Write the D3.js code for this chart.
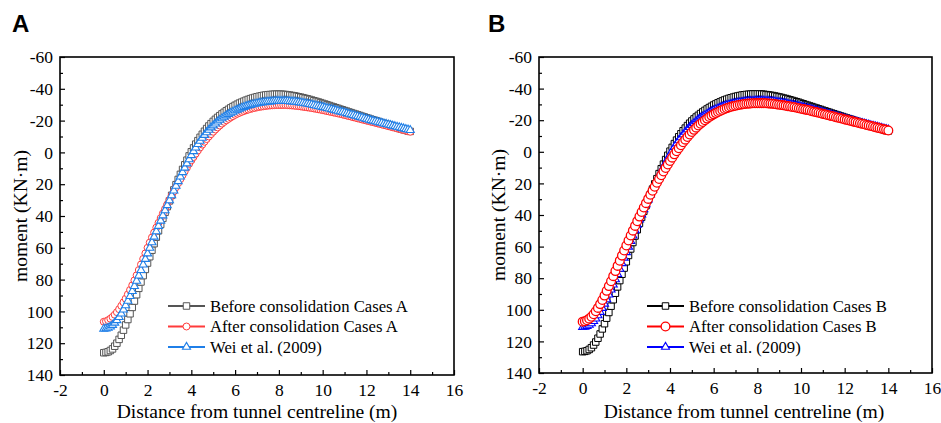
<html>
  <head>
    <title>Moment</title>
    <meta charset="utf-8" />
    <script src="https://cdnjs.cloudflare.com/ajax/libs/d3/7.6.1/d3.min.js"></script>
    <style>
      body { margin: 0; background: #fff; }
      .axis path { display: none; }
      .axis line { stroke: #000; stroke-width: 1.2; }
      .frame { fill: none; stroke: #000; stroke-width: 1.6; }
    </style>
  </head>
  <body>
    <svg width="941" height="423"></svg>
  </body>

  <script>
    const SERIF = '"Liberation Serif", "DejaVu Serif", "Times New Roman", serif';

    // distance from tunnel centreline (m)
    let distance = [
      0, 0.1, 0.2, 0.3, 0.4, 0.5, 0.6, 0.7, 0.8, 0.9, 1, 1.1, 1.2, 1.3, 1.4, 1.5, 1.6, 1.7, 1.8, 1.9,
      2, 2.1, 2.2, 2.3, 2.4, 2.5, 2.6, 2.7, 2.8, 2.9, 3, 3.1, 3.2, 3.3, 3.4, 3.5, 3.6, 3.7, 3.8, 3.9,
      4, 4.1, 4.2, 4.3, 4.4, 4.5, 4.6, 4.7, 4.8, 4.9, 5, 5.1, 5.2, 5.3, 5.4, 5.5, 5.6, 5.7, 5.8, 5.9,
      6, 6.1, 6.2, 6.3, 6.4, 6.5, 6.6, 6.7, 6.8, 6.9, 7, 7.1, 7.2, 7.3, 7.4, 7.5, 7.6, 7.7, 7.8, 7.9,
      8, 8.1, 8.2, 8.3, 8.4, 8.5, 8.6, 8.7, 8.8, 8.9, 9, 9.1, 9.2, 9.3, 9.4, 9.5, 9.6, 9.7, 9.8, 9.9,
      10, 10.1, 10.2, 10.3, 10.4, 10.5, 10.6, 10.7, 10.8, 10.9, 11, 11.1, 11.2, 11.3, 11.4, 11.5, 11.6, 11.7, 11.8, 11.9,
      12, 12.1, 12.2, 12.3, 12.4, 12.5, 12.6, 12.7, 12.8, 12.9, 13, 13.1, 13.2, 13.3, 13.4, 13.5, 13.6, 13.7, 13.8, 13.9,
      14];

    // moment (KN·m)
    let beforeA = [
      126, 125.8, 125.4, 124.6, 123.6, 121.9, 120, 117.6, 115, 111.8, 108.5, 105.1, 101.5, 97.5, 93.5, 89.5, 85.5, 81.5, 77.5, 73.6,
      69.6, 65.6, 61.5, 57.4, 53.3, 49.3, 45.3, 41.5, 37.7, 34.1, 30.5, 27, 23.6, 20.3, 17, 13.8, 10.7, 7.8, 4.9, 2.2,
      -0.4, -2.8, -5.2, -7.4, -9.5, -11.4, -13.3, -15, -16.6, -18.1, -19.5, -20.8, -22, -23.1, -24.2, -25.2, -26.2, -27.1, -28, -28.8,
      -29.6, -30.3, -31, -31.6, -32.2, -32.8, -33.3, -33.8, -34.2, -34.6, -35, -35.3, -35.6, -35.9, -36.1, -36.3, -36.4, -36.5, -36.6, -36.6,
      -36.6, -36.6, -36.5, -36.4, -36.2, -36, -35.8, -35.6, -35.3, -35, -34.7, -34.4, -34, -33.7, -33.3, -32.9, -32.5, -32.1, -31.7, -31.3,
      -30.8, -30.4, -29.9, -29.5, -29, -28.6, -28.1, -27.7, -27.2, -26.8, -26.3, -25.9, -25.4, -25, -24.5, -24.1, -23.6, -23.2, -22.7, -22.3,
      -21.8, -21.4, -20.9, -20.5, -20, -19.6, -19.1, -18.7, -18.2, -17.8, -17.3, -16.9, -16.4, -16, -15.5, -15.1, -14.7, -14.3, -13.9, -13.5,
      -13.2];
    let afterA = [
      106.5, 106.2, 105.5, 104.6, 103.5, 102.1, 100.5, 98.6, 96.5, 94.3, 92, 89.3, 86.5, 83.6, 80.5, 77.3, 74, 70.5, 67, 63.5,
      60, 56.7, 53.5, 50.4, 47.3, 44.3, 41.3, 38.4, 35.5, 32.7, 29.9, 27.2, 24.5, 21.9, 19.3, 16.8, 14.3, 11.9, 9.5, 7.2,
      5, 2.9, 0.8, -1.2, -3.1, -4.9, -6.7, -8.4, -10, -11.5, -13, -14.4, -15.7, -16.9, -18.1, -19.2, -20.2, -21.1, -22, -22.8,
      -23.6, -24.3, -24.9, -25.5, -26, -26.5, -26.9, -27.3, -27.7, -28, -28.3, -28.6, -28.8, -29, -29.2, -29.4, -29.5, -29.6, -29.7, -29.8,
      -29.8, -29.8, -29.8, -29.8, -29.7, -29.6, -29.5, -29.4, -29.2, -29.1, -28.9, -28.7, -28.5, -28.3, -28.1, -27.9, -27.6, -27.4, -27.1, -26.9,
      -26.6, -26.3, -26, -25.7, -25.4, -25.1, -24.8, -24.5, -24.2, -23.9, -23.5, -23.2, -22.8, -22.5, -22.1, -21.8, -21.4, -21.1, -20.7, -20.4,
      -20, -19.7, -19.3, -19, -18.6, -18.3, -17.9, -17.6, -17.2, -16.9, -16.5, -16.2, -15.8, -15.5, -15.1, -14.8, -14.4, -14.1, -13.7, -13.4,
      -13];
    let beforeB = [
      126.5, 126.3, 125.9, 125.1, 124, 122.3, 120.4, 118, 115.3, 112.1, 108.8, 105.3, 101.7, 97.7, 93.6, 89.5, 85.5, 81.5, 77.5, 73.6,
      69.6, 65.6, 61.5, 57.4, 53.3, 49.3, 45.3, 41.5, 37.7, 34.1, 30.5, 27, 23.6, 20.3, 17, 13.8, 10.7, 7.8, 4.9, 2.2,
      -0.4, -2.8, -5.2, -7.4, -9.5, -11.4, -13.3, -15, -16.6, -18.1, -19.5, -20.8, -22, -23.1, -24.2, -25.2, -26.2, -27.1, -28, -28.8,
      -29.6, -30.3, -31, -31.6, -32.2, -32.8, -33.3, -33.8, -34.2, -34.6, -35, -35.3, -35.6, -35.9, -36.1, -36.3, -36.4, -36.5, -36.6, -36.6,
      -36.6, -36.6, -36.5, -36.4, -36.2, -36, -35.8, -35.6, -35.3, -35, -34.7, -34.4, -34, -33.7, -33.3, -32.9, -32.5, -32.1, -31.7, -31.3,
      -30.8, -30.4, -29.9, -29.5, -29, -28.6, -28.1, -27.7, -27.2, -26.8, -26.3, -25.9, -25.4, -25, -24.5, -24.1, -23.6, -23.2, -22.7, -22.3,
      -21.8, -21.4, -20.9, -20.5, -20, -19.6, -19.1, -18.7, -18.2, -17.8, -17.3, -16.9, -16.4, -16, -15.5, -15.1, -14.7, -14.3, -13.9, -13.5,
      -13.2];
    let afterB = [
      107.5, 107.2, 106.6, 105.6, 104.4, 102.8, 100.9, 98.8, 96.4, 93.8, 91, 88, 85, 81.9, 78.7, 75.5, 72.2, 68.9, 65.7, 62.5,
      59.3, 56.1, 53, 49.9, 46.9, 43.9, 41, 38.1, 35.3, 32.5, 29.8, 27.2, 24.6, 22.1, 19.6, 17.2, 14.8, 12.5, 10.2, 8,
      5.8, 3.7, 1.6, -0.4, -2.3, -4.2, -6, -7.7, -9.4, -11, -12.5, -13.9, -15.3, -16.6, -17.8, -18.9, -20, -21, -22, -22.9,
      -23.7, -24.5, -25.2, -25.9, -26.5, -27.1, -27.6, -28.1, -28.5, -28.9, -29.2, -29.5, -29.8, -30, -30.2, -30.4, -30.5, -30.6, -30.7, -30.8,
      -30.8, -30.8, -30.8, -30.8, -30.7, -30.6, -30.5, -30.4, -30.2, -30, -29.8, -29.6, -29.4, -29.2, -28.9, -28.7, -28.4, -28.2, -27.9, -27.6,
      -27.3, -27, -26.7, -26.4, -26.1, -25.7, -25.4, -25.1, -24.7, -24.4, -24, -23.7, -23.3, -23, -22.6, -22.3, -21.9, -21.6, -21.2, -20.9,
      -20.5, -20.2, -19.8, -19.5, -19.1, -18.8, -18.4, -18.1, -17.7, -17.4, -17, -16.7, -16.3, -16, -15.6, -15.3, -14.9, -14.6, -14.2, -13.9,
      -13.5];
    let weiMoment = [
      111, 110.8, 110.4, 109.6, 108.6, 107.2, 105.6, 103.6, 101.4, 98.9, 96.2, 93.4, 90.4, 87.3, 84.1, 80.8, 77.5, 74.1, 70.6, 67.1,
      63.6, 60.1, 56.6, 53.1, 49.7, 46.3, 43, 39.7, 36.5, 33.3, 30.2, 27.1, 24.1, 21.1, 18.2, 15.3, 12.5, 9.7, 7, 4.4,
      1.8, -0.7, -3, -5.2, -7.2, -9.1, -10.9, -12.6, -14.1, -15.6, -16.9, -18.1, -19.3, -20.4, -21.4, -22.3, -23.2, -24, -24.8, -25.5,
      -26.2, -26.8, -27.4, -28, -28.5, -29, -29.4, -29.8, -30.2, -30.5, -30.8, -31.1, -31.3, -31.5, -31.7, -31.9, -32, -32.1, -32.2, -32.3,
      -32.3, -32.3, -32.3, -32.3, -32.2, -32.1, -32, -31.9, -31.7, -31.5, -31.3, -31.1, -30.8, -30.6, -30.3, -30, -29.7, -29.4, -29.1, -28.8,
      -28.5, -28.2, -27.8, -27.5, -27.1, -26.8, -26.4, -26.1, -25.7, -25.4, -25, -24.6, -24.2, -23.8, -23.4, -23, -22.6, -22.2, -21.8, -21.4,
      -21, -20.6, -20.2, -19.9, -19.5, -19.2, -18.8, -18.5, -18.1, -17.8, -17.4, -17.1, -16.7, -16.4, -16, -15.7, -15.3, -15, -14.6, -14.3,
      -14];

    let xTicks = [-2, 0, 2, 4, 6, 8, 10, 12, 14, 16];
    let yTicks = [-60, -40, -20, 0, 20, 40, 60, 80, 100, 120, 140];

    let svg = d3.select("svg");

    function drawPanel(p) {
      let x = d3.scaleLinear().domain([-2, 16]).range([p.left, p.right]),
        y = d3.scaleLinear().domain([-60, 140]).range([p.top, p.bottom]);

      let g = svg.append("g");

      // minor ticks
      g.append("g")
        .attr("class", "axis")
        .attr("transform", `translate(0,${p.bottom})`)
        .call(d3.axisBottom(x).tickValues(d3.range(-1, 16, 2)).tickSize(-3).tickFormat(""));
      g.append("g")
        .attr("class", "axis")
        .attr("transform", `translate(${p.left},0)`)
        .call(d3.axisLeft(y).tickValues(d3.range(-50, 140, 20)).tickSize(-3).tickFormat(""));

      g.append("g")
        .attr("class", "axis")
        .attr("transform", `translate(0,${p.bottom})`)
        .call(d3.axisBottom(x).tickValues(xTicks).tickSize(-5).tickPadding(9).tickFormat((d) => String(d)));
      g.append("g")
        .attr("class", "axis")
        .attr("transform", `translate(${p.left},0)`)
        .call(d3.axisLeft(y).tickValues(yTicks).tickSize(-5).tickPadding(7).tickFormat((d) => String(d)));

      g.selectAll(".axis text")
        .style("font-family", SERIF)
        .style("font-size", "17.5px")
        .style("fill", "#000");

      g.append("rect")
        .attr("class", "frame")
        .attr("x", p.left)
        .attr("y", p.top)
        .attr("width", p.right - p.left)
        .attr("height", p.bottom - p.top);

      let line = d3.line()
        .x((d) => x(d[0]))
        .y((d) => y(d[1]));

      p.series.forEach((s) => {
        let pts = distance.map((d, i) => [d, s.values[i]]);
        g.append("path")
          .datum(pts)
          .attr("fill", "none")
          .attr("stroke", s.color)
          .attr("stroke-width", 1.5)
          .attr("d", line);
        g.selectAll(null)
          .data(pts)
          .enter()
          .append("path")
          .attr("d", d3.symbol().type(s.shape).size(s.size))
          .attr("transform", (d) => `translate(${x(d[0])},${y(d[1])})`)
          .attr("fill", "#fff")
          .attr("stroke", s.color)
          .attr("stroke-width", s.sw);
      });

      // legend
      p.legend.forEach((s, i) => {
        let ly = p.legY + i * 20.5;
        g.append("line")
          .attr("x1", p.legX).attr("x2", p.legX + 37)
          .attr("y1", ly).attr("y2", ly)
          .attr("stroke", s.color).attr("stroke-width", 2.2);
        g.append("path")
          .attr("d", d3.symbol().type(s.shape).size(s.size))
          .attr("transform", `translate(${p.legX + 18.5},${ly})`)
          .attr("fill", "#fff")
          .attr("stroke", s.color)
          .attr("stroke-width", s.sw);
        g.append("text")
          .attr("x", p.legX + 42)
          .attr("y", ly)
          .attr("dy", "0.35em")
          .style("font-family", SERIF)
          .style("font-size", "16.7px")
          .text(s.name);
      });

      g.append("text")
        .attr("x", p.xTitleX)
        .attr("y", 418)
        .attr("text-anchor", "middle")
        .style("font-family", SERIF)
        .style("font-size", "19.6px")
        .text("Distance from tunnel centreline (m)");

      g.append("text")
        .attr("transform", `translate(${p.yTitleX},${(p.top + p.bottom) / 2}) rotate(-90)`)
        .attr("text-anchor", "middle")
        .attr("dy", "0.35em")
        .style("font-family", SERIF)
        .style("font-size", "19.6px")
        .text("moment (KN·m)");

      g.append("text")
        .attr("x", p.letterX)
        .attr("y", 32)
        .style("font-family", '"Liberation Sans", Arial, sans-serif')
        .style("font-weight", "bold")
        .style("font-size", "24px")
        .text(p.letter);
    }

    let seriesA = [
      { name: "Before consolidation Cases A", values: beforeA, color: "#555555", shape: d3.symbolSquare, size: 42, sw: 1 },
      { name: "After consolidation Cases A", values: afterA, color: "#ff3b3b", shape: d3.symbolCircle, size: 38, sw: 1 },
      { name: "Wei et al. (2009)", values: weiMoment, color: "#1f7fe8", shape: d3.symbolTriangle, size: 28, sw: 1.1 }
    ];
    let seriesB = [
      { name: "Before consolidation Cases B", values: beforeB, color: "#000000", shape: d3.symbolSquare, size: 42, sw: 1 },
      { name: "Wei et al. (2009)", values: weiMoment, color: "#0000ff", shape: d3.symbolTriangle, size: 28, sw: 1.1 },
      { name: "After consolidation Cases B", values: afterB, color: "#ff0000", shape: d3.symbolCircle, size: 60, sw: 1.3 }
    ];

    drawPanel({
      left: 60, right: 454, top: 57, bottom: 375,
      series: seriesA, legend: seriesA,
      legX: 168, legY: 306, xTitleX: 257, yTitleX: 20, letterX: 12, letter: "A"
    });
    drawPanel({
      left: 539, right: 932, top: 57, bottom: 373,
      series: seriesB, legend: [seriesB[0], seriesB[2], seriesB[1]],
      legX: 647, legY: 306, xTitleX: 744, yTitleX: 498, letterX: 488, letter: "B"
    });
  </script>
</html>
